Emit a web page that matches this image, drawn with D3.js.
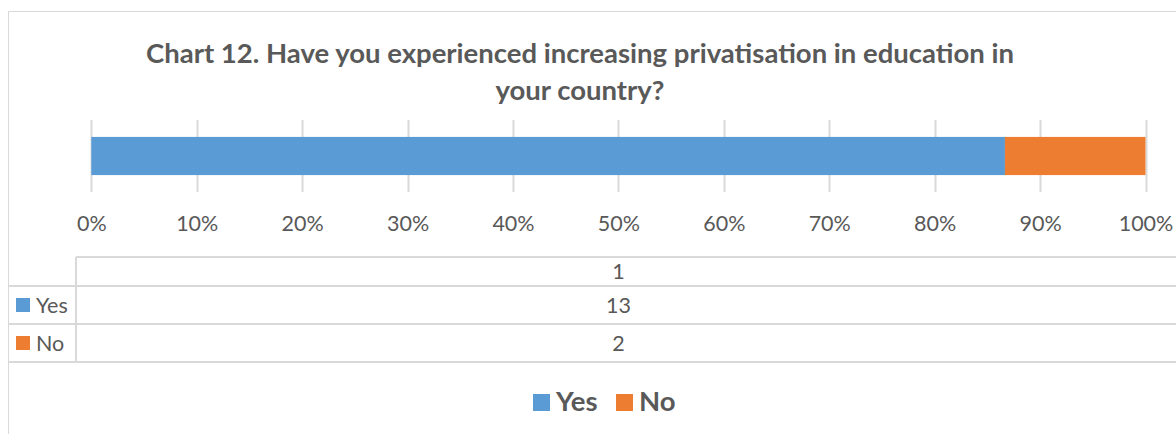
<!DOCTYPE html>
<html>
<head>
<meta charset="utf-8">
<script src="https://cdn.jsdelivr.net/npm/d3@7"></script>
<style>
  html, body { margin: 0; padding: 0; background: #fff; }
  svg { display: block; }
  text { font-family: Lato, "Open Sans", sans-serif; fill: #595959; }
</style>
</head>
<body>
<svg id="chart" width="1176" height="434"></svg>
<script>
// Survey answers per category
const categories = ["1"];
const seriesNames = ["Yes", "No"];
const yesValues = [13];
const noValues = [2];
const seriesColors = ["#5b9bd5", "#ed7d31"];
const titleLines = [
  "Chart 12. Have you experienced increasing privatisation in education in",
  "your country?"
];
const tickValues = [0, 0.1, 0.2, 0.3, 0.4, 0.5, 0.6, 0.7, 0.8, 0.9, 1];

const rows = categories.map((c, i) => ({ category: c, Yes: yesValues[i], No: noValues[i] }));
const stacked = d3.stack().keys(seriesNames).offset(d3.stackOffsetExpand)(rows);

const svg = d3.select("#chart");
const W = 1176, H = 434;
const grid = "#d9d9d9";
const bodySize = 21.5;
const boldSize = 27.5;

// chart frame
svg.append("path")
  .attr("d", `M8.5,${H} V11.5 H${W}`)
  .attr("fill", "none").attr("stroke", grid).attr("stroke-width", 1);

const plot = { left: 91.3, right: 1145.5, top: 120, bottom: 192 };
const x = d3.scaleLinear().domain([0, 1]).range([plot.left, plot.right]);
const y = d3.scaleBand().domain(categories).range([plot.top, plot.bottom]).paddingInner(0.47).paddingOuter(0.235);

// title
const title = svg.append("g");
titleLines.forEach((line, i) => {
  title.append("text")
    .attr("x", 580).attr("y", 63 + i * 37)
    .attr("text-anchor", "middle")
    .attr("font-weight", "bold")
    .attr("font-size", boldSize)
    .text(line);
});

// vertical gridlines
svg.append("g").selectAll("line").data(tickValues).join("line")
  .attr("x1", d => Math.round(x(d)) + 0.5).attr("x2", d => Math.round(x(d)) + 0.5)
  .attr("y1", plot.top).attr("y2", plot.bottom)
  .attr("stroke", grid).attr("stroke-width", 2);

// stacked bars
svg.append("g").selectAll("g").data(stacked).join("g")
  .attr("fill", (d, i) => seriesColors[i])
  .selectAll("rect").data(d => d).join("rect")
  .attr("x", d => x(d[0]))
  .attr("width", d => x(d[1]) - x(d[0]))
  .attr("y", d => y(d.data.category))
  .attr("height", y.bandwidth());

// percentage axis
const axis = d3.axisBottom(x).tickValues(tickValues).tickFormat(d3.format(".0%")).tickSize(0).tickPadding(0);
const ax = svg.append("g").attr("transform", "translate(0,231)").call(axis);
ax.select(".domain").remove();
ax.selectAll("text").attr("dy", 0).attr("font-size", bodySize).attr("fill", "#595959")
  .style("font-family", "Lato, 'Open Sans', sans-serif");

// data table
const tbl = { left: 8, split: 76, right: W, header: 257, rowH: [286, 324, 362] };
const tg = svg.append("g").attr("stroke", grid).attr("stroke-width", 2);
tg.append("line").attr("x1", tbl.split).attr("x2", W).attr("y1", tbl.header).attr("y2", tbl.header);
tbl.rowH.forEach(yy => tg.append("line").attr("x1", tbl.left).attr("x2", W).attr("y1", yy).attr("y2", yy));
tg.append("line").attr("x1", tbl.split).attr("x2", tbl.split).attr("y1", tbl.header).attr("y2", tbl.rowH[2]);

const cx = (plot.left + plot.right) / 2;
svg.append("text").attr("x", cx).attr("y", 279).attr("text-anchor", "middle").attr("font-size", bodySize).text(categories[0]);
const valueRows = [yesValues, noValues];
seriesNames.forEach((name, i) => {
  const base = i === 0 ? 313 : 351;
  svg.append("rect").attr("x", 16).attr("y", base - 15).attr("width", 14).attr("height", 14).attr("fill", seriesColors[i]);
  svg.append("text").attr("x", 36).attr("y", base).attr("font-size", bodySize).text(name);
  svg.append("text").attr("x", cx).attr("y", base).attr("text-anchor", "middle").attr("font-size", bodySize).text(valueRows[i][0]);
});

// legend
const legend = svg.append("g");
const legendX = [533, 616];
seriesNames.forEach((name, i) => {
  legend.append("rect").attr("x", legendX[i]).attr("y", 394).attr("width", 17).attr("height", 17).attr("fill", seriesColors[i]);
  legend.append("text").attr("x", legendX[i] + 23).attr("y", 411).attr("font-size", boldSize).attr("font-weight", "bold").text(name);
});
</script>
</body>
</html>
